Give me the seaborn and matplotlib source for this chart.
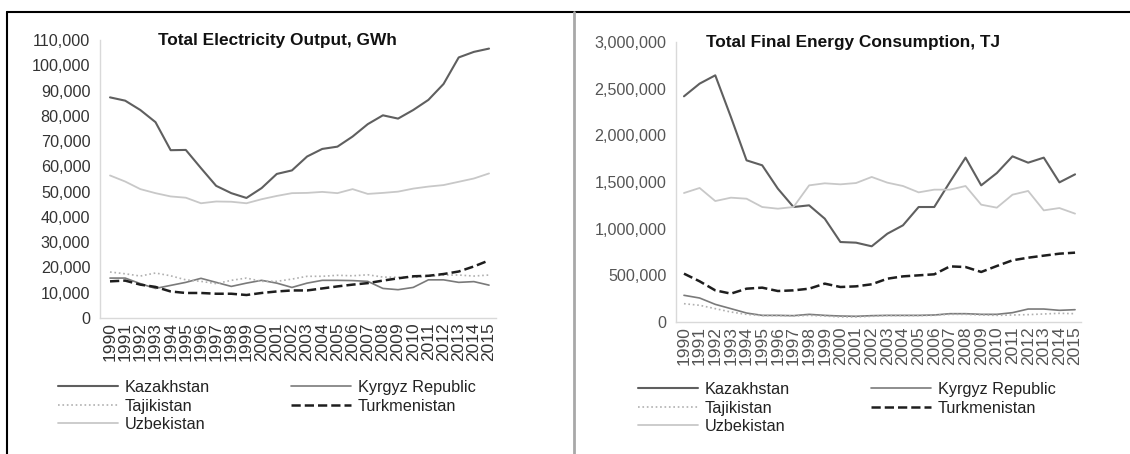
import matplotlib
matplotlib.use('Agg')
import matplotlib.pyplot as plt
from matplotlib.lines import Line2D
from matplotlib.ticker import FuncFormatter
import seaborn as sns
import pandas as pd

# ── Data ───────────────────────────────────────────────────────────────────
years = list(range(1990, 2016))
countries = ['Kazakhstan', 'Kyrgyz Republic', 'Tajikistan', 'Turkmenistan', 'Uzbekistan']

# Total electricity output, GWh
elec_kaz = [87300, 86000, 82300, 77500, 66400, 66500, 59300, 52300, 49400, 47500,
            51400, 57000, 58400, 63900, 66900, 67800, 71800, 76700, 80200, 78900,
            82300, 86300, 92600, 103100, 105300, 106600]
elec_kgz = [15800, 15800, 13600, 11700, 12900, 14100, 15700, 14100, 12500, 13800,
            14900, 13800, 12100, 13800, 14900, 14900, 14800, 14500, 11700, 11200,
            12100, 15100, 15100, 14100, 14400, 13000]
elec_tjk = [18200, 17500, 16600, 17800, 16700, 15100, 14500, 13600, 14900, 15800,
            14500, 14500, 15400, 16500, 16500, 16900, 16700, 17100, 16200, 16100,
            16100, 16500, 17000, 17000, 16600, 17000]
elec_tkm = [14500, 14800, 13200, 12300, 10500, 9900, 9900, 9600, 9600, 9100,
            9900, 10500, 10900, 10900, 11700, 12500, 13200, 13800, 14800, 15700,
            16500, 16700, 17400, 18400, 20400, 22800]
elec_uzb = [56400, 54000, 51000, 49400, 48100, 47600, 45400, 46100, 46000, 45400,
            47000, 48300, 49400, 49500, 49900, 49400, 51000, 49100, 49500, 50000,
            51200, 52000, 52600, 53900, 55200, 57200]

# Total final energy consumption, TJ
tfc_kaz = [2418000, 2554000, 2643000, 2196000, 1732000, 1679000, 1429000, 1232000, 1250000, 1107000,
           857000, 850000, 811000, 946000, 1036000, 1232000, 1232000, 1500000, 1761000, 1464000,
           1596000, 1775000, 1707000, 1761000, 1496000, 1582000]
tfc_kgz = [286000, 257000, 189000, 143000, 96000, 71000, 71000, 68000, 82000, 71000,
           64000, 61000, 68000, 71000, 71000, 71000, 75000, 89000, 89000, 82000,
           82000, 100000, 139000, 139000, 125000, 132000]
tfc_tjk = [196000, 179000, 143000, 107000, 82000, 68000, 68000, 64000, 71000, 64000,
           54000, 54000, 61000, 68000, 68000, 68000, 71000, 82000, 82000, 75000,
           71000, 75000, 79000, 86000, 93000, 89000]
tfc_tkm = [518000, 436000, 339000, 304000, 357000, 368000, 332000, 339000, 357000, 411000,
           375000, 382000, 404000, 464000, 489000, 500000, 511000, 596000, 589000, 536000,
           600000, 661000, 689000, 711000, 732000, 743000]
tfc_uzb = [1382000, 1436000, 1296000, 1332000, 1321000, 1232000, 1214000, 1232000, 1464000, 1486000,
           1475000, 1489000, 1554000, 1493000, 1457000, 1389000, 1418000, 1418000, 1457000, 1257000,
           1225000, 1364000, 1404000, 1196000, 1221000, 1161000]

# ── Styles ─────────────────────────────────────────────────────────────────
sns.set_style('white')
plt.rcParams['font.family'] = ['Liberation Sans', 'DejaVu Sans']

styles = {
    'Kazakhstan':      dict(color='#5f5f5f', ls='-',  lw=1.5),
    'Kyrgyz Republic': dict(color='#7a7a7a', ls='-',  lw=1.2),
    'Tajikistan':      dict(color='#b0b0b0', ls=':',  lw=1.2),
    'Turkmenistan':    dict(color='#1e1e1e', ls='--', lw=1.8),
    'Uzbekistan':      dict(color='#c8c8c8', ls='-',  lw=1.3),
}

W, H = 1130, 454
fig = plt.figure(figsize=(W / 100, H / 100), dpi=100)

def px_axes(x0, x1, ytop, ybot):
    return fig.add_axes([x0 / W, (H - ybot) / H, (x1 - x0) / W, (ybot - ytop) / H])

def draw_panel(ax, series, ymax, ystep, title, title_x, xpad, tick_color):
    df = pd.DataFrame({'Year': years * len(countries),
                       'Country': [c for c in countries for _ in years],
                       'Value': [v for s in series for v in s]})
    for c in countries:
        st = styles[c]
        sns.lineplot(data=df[df['Country'] == c], x='Year', y='Value', ax=ax,
                     color=st['color'], linestyle=st['ls'], linewidth=st['lw'], label=c)
    ax.set_xlim(1990 - xpad[0], 2015 + xpad[1])
    ax.set_ylim(0, ymax)
    ax.set_yticks(range(0, ymax + 1, ystep))
    ax.yaxis.set_major_formatter(FuncFormatter(lambda v, p: f'{int(v):,}'))
    ax.set_xticks(years)
    ax.set_xticklabels([str(y) for y in years], rotation=90)
    ax.tick_params(axis='y', length=4, color='#d0d0d0', labelsize=11.6, labelcolor=tick_color, pad=3)
    ax.tick_params(axis='x', length=0, labelsize=12.5, labelcolor=tick_color, pad=3)
    ax.set_xlabel('')
    ax.set_ylabel('')
    for s in ['top', 'right']:
        ax.spines[s].set_visible(False)
    for s in ['left', 'bottom']:
        ax.spines[s].set_color('#d9d9d9')
        ax.spines[s].set_linewidth(1.0)
    ax.text(title_x, 1.0, title, transform=ax.transAxes, ha='center', va='center',
            fontsize=12.4, fontweight='bold', color='#111111')
    ax.get_legend().remove()

ax1 = px_axes(100, 496, 40, 318)
draw_panel(ax1, [elec_kaz, elec_kgz, elec_tjk, elec_tkm, elec_uzb], 110000, 10000,
           'Total Electricity Output, GWh', 0.447, (0.66, 0.46), '#333333')

ax2 = px_axes(676, 1081, 42, 322)
draw_panel(ax2, [tfc_kaz, tfc_kgz, tfc_tjk, tfc_tkm, tfc_uzb], 3000000, 500000,
           'Total Final Energy Consumption, TJ', 0.438, (0.51, 0.38), '#555555')

# legends: row-wise order -> reorder for matplotlib's column filling
order = ['Kazakhstan', 'Tajikistan', 'Uzbekistan', 'Kyrgyz Republic', 'Turkmenistan']
for ax, (lx, ly) in [(ax1, (58, 380)), (ax2, (638, 382))]:
    handles = [Line2D([], [], color=styles[c]['color'], linestyle=styles[c]['ls'],
                      linewidth=styles[c]['lw']) for c in order]
    fig.legend(handles, order, loc='upper left', bbox_to_anchor=(lx / W, (H - ly) / H),
               ncol=2, frameon=False, fontsize=11.7, handlelength=3.7, handletextpad=0.4,
               columnspacing=5.0, labelspacing=0.22, borderpad=0, borderaxespad=0,
               labelcolor='#222222')

# panel borders
fig.add_artist(Line2D([7 / W, 1.0], [(H - 11.5) / H] * 2, transform=fig.transFigure,
                      color='#000000', lw=1.5))
fig.add_artist(Line2D([7 / W] * 2, [0, (H - 11.5) / H], transform=fig.transFigure,
                      color='#000000', lw=1.5))
fig.add_artist(Line2D([573.5 / W] * 2, [0, (H - 12) / H], transform=fig.transFigure,
                      color='#a8a8a8', lw=2))

fig.savefig('out.png', dpi=100)
